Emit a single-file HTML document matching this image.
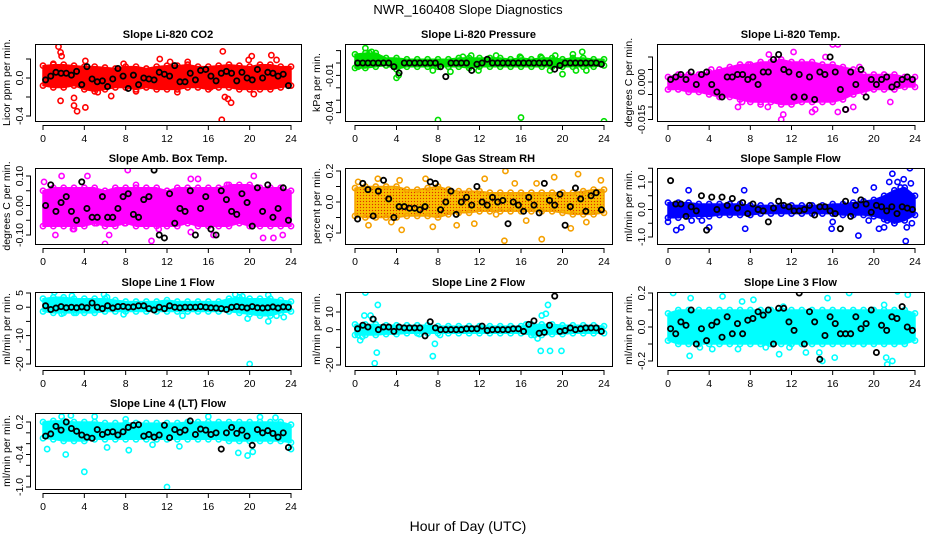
<!DOCTYPE html>
<html><head><meta charset="utf-8"><style>
html,body{margin:0;padding:0;background:#fff;}
svg{display:block;font-family:"Liberation Sans",sans-serif;}
</style></head><body>
<svg id="chart" width="936" height="540" viewBox="0 0 936 540">
<defs>
<pattern id="rh-hatch" width="3" height="3" patternUnits="userSpaceOnUse">
<rect width="3" height="3" fill="#f7b500"/><rect width="1" height="1" fill="#e03000"/><rect x="1.5" y="1.5" width="1" height="1" fill="#ffe000"/>
</pattern>
</defs>
<text x="468" y="14" text-anchor="middle" font-size="13">NWR_160408  Slope Diagnostics</text>
<text x="468" y="531" text-anchor="middle" font-size="14">Hour of Day (UTC)</text>
</svg>
<script>
// ---- shared categories ----
const xTicks = [0,4,8,12,16,20,24];
const blkHours = [];
for (let i = 0; i < 48; i++) blkHours.push(0.25 + i * 0.5);
const bandHours = [];
for (let i = 0; i <= 24; i++) bandHours.push(i);

// ---- CO2 ----
const co2Hi = [.13,.14,.14,.13,.12,.12,.11,.1,.12,.12,.1,.12,.13,.13,.14,.12,.12,.13,.14,.13,.12,.14,.14,.12,.12];
const co2Lo = [-.08,-.1,-.1,-.08,-.12,-.14,-.12,-.1,-.1,-.12,-.1,-.12,-.12,-.12,-.1,-.1,-.12,-.1,-.1,-.12,-.12,-.12,-.12,-.1,-.08];
const co2Pts = [[1.5,.33],[1.7,.27],[1.8,.23],[1.7,-.24],[3,-.21],[3,-.29],[3.3,-.35],[4.1,-.31],[6.6,-.19],[17.3,-.44],[17.4,.28],[17.6,-.2],[17.9,-.22],[18.2,-.26],[16.2,-.1],[20.2,.23],[22.1,.24],[20.4,-.17],[11.3,.2],[12.3,.17],[1,.15],[4.1,.18],[7.8,.15],[14,.17],[19.9,.19],[22.6,.19],[5.3,-.15],[9,-.14],[13,-.15]];
const co2Blk = [-.02,.02,.06,.05,.05,.03,.07,-.07,.12,-.01,-.04,-.03,-.09,-.01,.1,.02,-.11,.03,-.07,0,-.01,-.02,.06,.04,.02,.13,-.04,-.04,.05,-.02,.08,.09,.02,-.03,.05,.07,.05,-.03,.06,0,-.02,.09,0,.06,.05,.02,.04,-.08];
// ---- Pressure ----
const presHi = [.007,.008,.008,.004,.004,.003,.003,.003,.003,.003,.004,.004,.004,.004,.004,.003,.004,.003,.004,.004,.003,.004,.004,.003,.003];
const presLo = [-.004,-.004,-.003,-.002,-.005,-.003,-.003,-.003,-.003,-.003,-.003,-.004,-.003,-.003,-.003,-.003,-.003,-.003,-.003,-.003,-.003,-.003,-.003,-.003,-.002];
const presPts = [[8,-.046],[16,-.044],[24,-.047],[1,.012],[1.4,.008],[1.6,.009],[.3,-.003],[.5,.005],[4,-.012],[4.2,-.01],[9.2,-.007],[11.9,-.006],[20,-.009],[21.9,.009],[21,.007],[21.3,-.006],[17.9,.005],[19.3,.006],[13.6,.006],[10.4,.005],[15.9,.005],[11.2,.006],[7.5,-.006],[22.3,-.006],[18.8,-.006]];
const presBlk = [0,0,0,0,0,0,0,-.003,-.008,0,0,0,0,0,0,0,-.003,-.011,0,0,0,0,-.006,-.001,0,.003,0,0,0,0,0,0,0,0,0,0,0,0,-.005,-.002,0,0,0,0,0,0,0,-.001];
// ---- Li-820 Temp ----
const tempHi = [.002,.003,.003,.003,.004,.005,.006,.007,.007,.008,.008,.009,.008,.008,.008,.007,.007,.006,.005,.003,.003,.003,.003,.002,.002];
const tempLo = [-.003,-.003,-.004,-.004,-.005,-.006,-.006,-.007,-.008,-.008,-.008,-.009,-.009,-.008,-.008,-.008,-.008,-.007,-.005,-.004,-.003,-.003,-.003,-.002,-.002];
const tempPts = [[9.8,.011],[10.6,.009],[12.2,.012],[16,.015],[16.5,.015],[15.3,.01],[11,-.015],[11.2,-.013],[12.8,-.007],[14.3,-.011],[16.5,-.012],[17.3,-.011],[18,-.01],[21.6,-.008],[6.8,-.01],[7.2,-.008],[9.7,-.01],[4.2,.005],[7.8,.007],[13.8,.006],[18.6,.006],[9,-.009],[14,-.012]];
const tempBlk = [.001,.002,.003,.001,.004,-.001,.003,.004,-.001,-.004,-.006,.002,.002,.003,.003,.001,.002,-.001,.004,.004,.009,.011,.005,.004,-.006,.003,-.006,.002,-.007,.004,.003,.010,.004,-.003,-.011,.004,-.001,.005,-.006,.001,-.001,.001,.002,-.002,-.001,.001,.002,.001];
// ---- Amb Box Temp ----
const ambHi = [.05,.06,.06,.06,.06,.06,.05,.06,.06,.06,.06,.06,.05,.06,.06,.06,.06,.06,.07,.07,.07,.06,.06,.06,.05];
const ambLo = [-.07,-.07,-.07,-.07,-.07,-.06,-.07,-.07,-.06,-.07,-.07,-.07,-.07,-.07,-.06,-.07,-.07,-.07,-.07,-.06,-.07,-.07,-.07,-.07,-.07];
const ambPts = [[.1,.08],[1.8,.1],[4.3,.1],[8.2,.12],[15,.09],[14.3,.09],[20.4,.1],[2.9,-.08],[3,-.08],[6,-.13],[6.4,-.1],[7.9,-.06],[10.5,-.12],[14.3,-.09],[16.5,-.1],[21.3,-.11],[22.3,-.11],[23.2,-.1],[5.2,-.06],[11.2,-.08],[1.2,-.1],[9,.07],[17.8,.07]];
const ambBlk = [0,.07,-.02,.01,.03,-.02,-.05,.08,-.01,-.04,-.04,.03,-.04,-.04,-.01,.03,.04,-.03,-.04,.02,.03,.12,-.1,-.11,.04,-.06,-.01,-.02,.05,-.1,-.01,.03,-.08,-.1,.05,.02,-.02,-.03,.04,.01,-.07,.06,-.02,.07,-.04,-.01,.06,-.05];
// ---- Gas Stream RH ----
const rhHi = [.09,.1,.1,.1,.1,.08,.08,.09,.1,.08,.07,.07,.07,.06,.06,.06,.06,.06,.06,.06,.06,.06,.07,.08,.08];
const rhLo = [-.09,-.1,-.1,-.1,-.1,-.09,-.09,-.09,-.1,-.08,-.07,-.07,-.06,-.06,-.06,-.06,-.06,-.06,-.06,-.06,-.07,-.08,-.08,-.08,-.07];
const rhPts = [[.3,.13],[1.3,-.15],[2.2,.15],[4.3,.14],[4.5,-.18],[7.5,-.16],[6.8,.15],[9.8,-.15],[14.5,.2],[14.4,-.25],[15.4,.12],[18,-.24],[19.2,.16],[20.8,-.17],[21.5,.18],[22.3,-.13],[23.7,.14],[3.5,-.13],[11.5,-.14],[13.6,-.08],[16.5,-.12],[12.5,.15],[17.5,.12]];
const rhBlk = [-.11,.12,.08,-.09,.07,.14,.02,-.1,-.03,-.03,-.04,-.04,-.05,-.03,.13,.12,-.05,0,.07,-.08,0,.03,-.02,.1,0,-.02,.03,0,.01,-.14,0,-.02,-.06,.03,-.02,-.07,.12,.01,-.02,.05,-.15,-.03,.09,.02,-.06,.04,.06,-.05];
// ---- Sample Flow ----
const sfHi = [.25,.25,.25,.2,.2,.2,.2,.2,.15,.15,.15,.15,.15,.15,.15,.15,.2,.2,.25,.3,.35,.5,.7,.8,.5];
const sfLo = [-.3,-.3,-.25,-.25,-.25,-.2,-.2,-.2,-.2,-.15,-.15,-.15,-.15,-.15,-.15,-.15,-.15,-.2,-.2,-.2,-.25,-.35,-.5,-.4,-.2];
const sfPts = [[0,-.45],[.8,-.75],[1.3,-.65],[2,.7],[2.3,-.4],[3.3,-.4],[4,-.65],[7.4,.7],[7.5,-.7],[15.9,-.7],[18.2,.7],[18.5,-.95],[20,.8],[20.5,-.7],[21,-.65],[21.8,1.3],[21.5,1],[22.3,1],[22.6,.8],[22.9,1.1],[23.1,-1.15],[23.5,1.5],[23.6,.95],[23.2,-.65],[23.7,-.5],[22,-.5],[21.3,-.4],[19.5,-.4],[16,-.45]];
const sfBlk = [1.05,.2,.2,-.25,.1,-.05,.5,-.75,.45,0,.45,.15,.4,.05,.25,-.15,.2,0,-.05,-.45,.05,.3,.15,.1,-.05,-.05,0,.15,-.2,.1,.1,-.05,-.15,-.7,.3,-.25,.15,.35,.2,-.1,.15,.1,-.05,.1,-.15,.1,.05,0];
// ---- Line 1 ----
const l1Hi = [3,3.5,3.5,3,3,3,3,2.5,2,2,2,2,2.5,2,2,2,2,2,3,3.5,3,3,3,2.5,2];
const l1Lo = [-1.5,-2,-2,-2,-2,-2,-1.5,-1.5,-1.5,-1.5,-1.5,-1.5,-1.5,-1.5,-1.5,-1.5,-1.5,-1.5,-1.5,-2,-2.5,-3,-3,-2,-1.5];
const l1Pts = [[1.1,5.3],[2.8,4],[5.9,4.5],[6.2,3.5],[18.6,4.5],[19.3,3.8],[21.8,4.3],[20,-20],[19.8,-4],[21.8,-5],[22.6,-3],[23.3,-3.5],[13.5,-3],[7.8,-2.5],[1.8,-2.3],[3.2,-2]];
const l1Blk = [.5,-.8,-.3,.2,-.2,0,-.2,.1,-.2,1.5,0,-.5,.5,-.3,.2,.3,0,.1,.5,.5,-.5,-1,0,-.5,.5,0,-.2,0,0,0,.2,0,-.2,-.3,-.5,-.8,0,.2,0,-.3,.2,-.2,-.3,-.2,.1,-.3,.1,0];
// ---- Line 2 ----
const l2Hi = [3,3,3,2.5,2.5,2.5,2.5,2.5,2,2,2,2,2,2,2,2,2,3,3,3,2.5,2.5,2.5,2.5,2];
const l2Lo = [-3,-3,-3,-2.5,-2.5,-2,-2,-2,-2,-2,-2,-2,-2,-2,-2,-2,-2,-3,-3,-2.5,-2.5,-2,-2,-2,-2];
const l2Pts = [[1,21],[.9,8],[1.5,8],[1.7,6],[2.2,14],[2.1,-13],[1.9,-19],[.5,-6],[.7,-4],[.3,-3],[7.5,-15],[7.7,-8],[8.2,-3],[17.6,-5],[17.9,-12],[18,8],[18.4,9],[18.6,14],[18.8,-12],[19.9,-12],[17.3,-3],[16.5,3],[6.2,-2.5]];
const l2Blk = [.5,2.5,1.5,6,0,1.5,1.5,-1,1.5,1,1,1,1,-3.5,4.5,1,0,0,0,0,0,.5,.5,.5,2,-.5,0,0,0,0,.5,.5,-1,3,5,-2,-1.5,2.5,19,-1,-.5,1,0,.5,1,1,1,-1];
// ---- Line 3 ----
const l3Hi = [.08,.1,.1,.1,.1,.1,.1,.1,.1,.1,.1,.1,.1,.1,.1,.1,.1,.1,.1,.1,.1,.1,.1,.1,.08];
const l3Lo = [-.08,-.1,-.1,-.1,-.1,-.1,-.1,-.1,-.1,-.1,-.1,-.1,-.1,-.1,-.1,-.1,-.1,-.1,-.1,-.1,-.1,-.1,-.1,-.1,-.08];
const l3Pts = [[.5,.2],[2.1,-.17],[2.2,.17],[3.1,-.12],[5.3,.18],[4.3,-.13],[6.8,-.13],[7.2,.15],[8.3,.16],[10.8,-.16],[11.8,-.12],[13.4,-.15],[14.7,-.15],[15,-.2],[15.5,.17],[16.2,-.18],[17.6,.2],[19,-.1],[21.2,-.18],[21.3,-.22],[21.8,-.2],[22.3,.21],[23.3,.19],[21,.13],[11.2,.12],[9.5,-.12]];
const l3Blk = [-.01,-.04,.03,.01,.1,-.1,-.01,-.08,.01,.03,-.06,.06,-.04,.02,-.04,.04,.05,.09,.07,.1,-.1,.11,.11,.03,-.02,.2,-.1,.09,.03,-.19,-.05,.06,.02,-.04,-.04,-.04,.06,-.01,.02,.1,-.15,.01,-.02,.06,.05,.12,0,-.02];
// ---- Line 4 ----
const l4Hi = [.2,.22,.22,.2,.2,.2,.18,.18,.18,.18,.18,.18,.18,.18,.2,.2,.2,.2,.2,.2,.2,.2,.2,.2,.15];
const l4Lo = [-.1,-.12,-.15,-.15,-.15,-.12,-.12,-.12,-.12,-.12,-.12,-.12,-.12,-.12,-.12,-.12,-.12,-.12,-.15,-.15,-.15,-.15,-.15,-.15,-.18];
const l4Pts = [[.4,-.3],[2.2,-.4],[4,-.72],[12,-1],[19.8,-.42],[20.3,-.35],[18.9,-.37],[8.3,-.32],[1.8,.3],[2.7,.32],[5,.3],[8,.25],[16,.3],[21,.29],[22.5,.28],[24,-.3],[6.2,-.27],[13.2,-.25],[10.6,-.22]];
const l4Blk = [-.06,-.02,.12,.05,.2,.08,.03,-.04,-.08,-.1,.06,-.03,.01,.02,-.04,.02,.1,.14,.15,-.06,-.03,-.08,-.04,.14,-.09,.06,.01,.05,.22,-.03,.07,.05,-.03,.0,-.3,.0,.1,-.01,.05,-.06,-.23,.06,.0,.04,-.01,-.08,.0,-.27];

const panels = [
 {name:'co2',title:'Slope Li-820 CO2',ylab:'Licor ppm per min.',col:0,row:0,yA:[0,78],yB:[-0.4,116],ticks:[-0.4,-0.2,0,0.2],labels:[[-0.4,'-0.4'],[0,'0.0']],color:'#ff0000',fill:'#ff0000',hi:co2Hi,lo:co2Lo,pts:co2Pts,blk:co2Blk},
 {name:'pressure',title:'Slope Li-820 Pressure',ylab:'kPa per min.',col:1,row:0,yA:[0,63],yB:[-0.04,112.6],ticks:[.01,0,-.01,-.02,-.03,-.04],labels:[[-.01,'-0.01'],[-.04,'-0.04']],color:'#00e000',fill:'#00e000',hi:presHi,lo:presLo,pts:presPts,blk:presBlk},
 {name:'li820-temp',title:'Slope Li-820 Temp.',ylab:'degrees C per min.',col:2,row:0,yA:[0,82],yB:[-0.015,119.5],ticks:[.01,.005,0,-.005,-.01,-.015],labels:[[0,'0.000'],[-.015,'-0.015']],color:'#ff00ff',fill:'#ff00ff',hi:tempHi,lo:tempLo,pts:tempPts,blk:tempBlk},
 {name:'amb-temp',title:'Slope Amb. Box Temp.',ylab:'degrees C per min.',col:0,row:1,yA:[0.1,176],yB:[-0.1,235],ticks:[.1,.05,0,-.05,-.1],labels:[[.1,'0.10'],[0,'0.00'],[-.1,'-0.10']],color:'#ff00ff',fill:'#ff00ff',hi:ambHi,lo:ambLo,pts:ambPts,blk:ambBlk},
 {name:'rh',title:'Slope Gas Stream RH',ylab:'percent per min.',col:1,row:1,yA:[0.2,171],yB:[-0.2,233],ticks:[.2,.1,0,-.1,-.2],labels:[[.2,'0.2'],[0,'0.0'],[-.2,'-0.2']],color:'#f5a000',fill:'url(#rh-hatch)',hi:rhHi,lo:rhLo,pts:rhPts,blk:rhBlk},
 {name:'sample-flow',title:'Slope Sample Flow',ylab:'ml/min per min.',col:2,row:1,yA:[1,182],yB:[-1,237],ticks:[1.5,1,.5,0,-.5,-1],labels:[[1,'1.0'],[0,'0.0'],[-1,'-1.0']],color:'#0000ff',fill:'#0000ff',hi:sfHi,lo:sfLo,pts:sfPts,blk:sfBlk},
 {name:'line1-flow',title:'Slope Line 1 Flow',ylab:'ml/min per min.',col:0,row:2,yA:[5,293],yB:[-20,364],ticks:[5,0,-5,-10,-15,-20],labels:[[5,'5'],[0,'0'],[-10,'-10'],[-20,'-20']],color:'#00ffff',fill:'#00ffff',hi:l1Hi,lo:l1Lo,pts:l1Pts,blk:l1Blk},
 {name:'line2-flow',title:'Slope Line 2 Flow',ylab:'ml/min per min.',col:1,row:2,yA:[10,312],yB:[-20,365],ticks:[20,10,0,-10,-20],labels:[[10,'10'],[0,'0'],[-20,'-20']],color:'#00ffff',fill:'#00ffff',hi:l2Hi,lo:l2Lo,pts:l2Pts,blk:l2Blk},
 {name:'line3-flow',title:'Slope Line 3 Flow',ylab:'ml/min per min.',col:2,row:2,yA:[0.2,293],yB:[-0.2,361],ticks:[.2,.1,0,-.1,-.2],labels:[[.2,'0.2'],[0,'0.0'],[-.2,'-0.2']],color:'#00ffff',fill:'#00ffff',hi:l3Hi,lo:l3Lo,pts:l3Pts,blk:l3Blk},
 {name:'line4-flow',title:'Slope Line 4 (LT) Flow',ylab:'ml/min per min.',col:0,row:3,yA:[0.2,422],yB:[-1,487],ticks:[.2,0,-.2,-.4,-.6,-.8,-1],labels:[[.2,'0.2'],[-.4,'-0.4'],[-1,'-1.0']],color:'#00ffff',fill:'#00ffff',hi:l4Hi,lo:l4Lo,pts:l4Pts,blk:l4Blk}
];
const colBox = [[35,301,43,291],[345,612,355,604],[657,924,668,915]];
const rowBox = [[44,121],[168,244],[292,366],[413,489]];

const NS='http://www.w3.org/2000/svg';
const svg=document.getElementById('chart');
function mk(tag,attrs,parent){const e=document.createElementNS(NS,tag);for(const k in attrs)e.setAttribute(k,attrs[k]);(parent||svg).appendChild(e);return e;}

panels.forEach(p=>{
  const [L,R,x0,x24]=colBox[p.col];
  const [T,B]=rowBox[p.row];
  const xs=h=>x0+(x24-x0)*h/24;
  const ys=v=>p.yA[1]+(v-p.yA[0])*(p.yB[1]-p.yA[1])/(p.yB[0]-p.yA[0]);
  const g=mk('g',{});
  
  
  const clip=mk('clipPath',{id:'c-'+p.name},g);
  mk('rect',{x:L,y:T,width:R-L,height:B-T},clip);
  const plot=mk('g',{'clip-path':'url(#c-'+p.name+')'},g);
  // band (dense point cloud)
  let d='';
  bandHours.forEach((h,i)=>{d+=(i?'L':'M')+xs(h).toFixed(1)+' '+ys(p.hi[i]).toFixed(1);});
  for(let i=bandHours.length-1;i>=0;i--) d+='L'+xs(bandHours[i]).toFixed(1)+' '+ys(p.lo[i]).toFixed(1);
  const band=mk('path',{d:d+'Z',fill:p.fill,stroke:p.color,'stroke-width':1.5,'stroke-linejoin':'round'},plot);
  
  
  // ragged edge circles along cloud boundary
  bandHours.forEach((h,i)=>{
    [p.hi[i],p.lo[i]].forEach(v=>{
      const c=mk('circle',{cx:xs(h),cy:ys(v),r:2.6,fill:'none',stroke:p.color,'stroke-width':1.6},plot);
      
      
    });
  });
  p.pts.forEach(pt=>{
    const c=mk('circle',{cx:xs(pt[0]),cy:ys(pt[1]),r:2.6,fill:'none',stroke:p.color,'stroke-width':1.6},plot);
    
    
  });
  p.blk.forEach((v,i)=>{
    const c=mk('circle',{cx:xs(blkHours[i]),cy:ys(v),r:2.6,fill:'none',stroke:'#000','stroke-width':1.8},plot);
    
    
  });
  const box=mk('rect',{x:L+.5,y:T+.5,width:R-L,height:B-T,fill:'none',stroke:'#000','stroke-width':1},g);
  
  
  const t=mk('text',{x:(L+R)/2,y:T-6,'text-anchor':'middle','font-size':11,'font-weight':'bold'},g);
  t.textContent=p.title;
  
  
  mk('line',{x1:x0,x2:x24,y1:B+4.5,y2:B+4.5,stroke:'#000'},g);
  xTicks.forEach(h=>{
    mk('line',{x1:xs(h),x2:xs(h),y1:B+4,y2:B+9,stroke:'#000'},g);
    const tl=mk('text',{x:xs(h),y:B+21,'text-anchor':'middle','font-size':10.5},g);
    tl.textContent=h;
    
    
  });
  const yt=p.ticks.map(ys);
  mk('line',{x1:L-4.5,x2:L-4.5,y1:Math.min(...yt),y2:Math.max(...yt),stroke:'#000'},g);
  p.ticks.forEach(v=>mk('line',{x1:L-9,x2:L-4,y1:ys(v),y2:ys(v),stroke:'#000'},g));
  p.labels.forEach(lb=>{
    const y=ys(lb[0]);
    const tl=mk('text',{x:L-12,y:y,'text-anchor':'middle','font-size':10.5,transform:'rotate(-90 '+(L-12)+' '+y+')'},g);
    tl.textContent=lb[1];
    
    
  });
  const yl=mk('text',{x:L-25,y:(T+B)/2,'text-anchor':'middle','font-size':10.5,transform:'rotate(-90 '+(L-25)+' '+((T+B)/2)+')'},g);
  yl.textContent=p.ylab;
  
  
});
</script>
</body></html>
